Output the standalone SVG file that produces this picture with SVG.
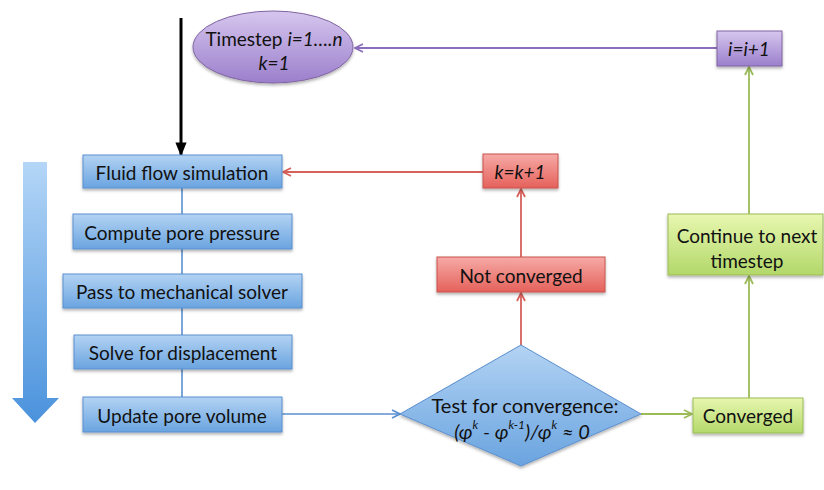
<svg xmlns="http://www.w3.org/2000/svg" width="824" height="490" viewBox="0 0 824 490">
<defs>
<linearGradient id="gBlue" x1="0" y1="0" x2="0" y2="1"><stop offset="0" stop-color="#b3d3f3"/><stop offset="1" stop-color="#6aa4e0"/></linearGradient>
<linearGradient id="gRed" x1="0" y1="0" x2="0" y2="1"><stop offset="0" stop-color="#f6aaa6"/><stop offset="1" stop-color="#e5615b"/></linearGradient>
<linearGradient id="gGreen" x1="0" y1="0" x2="0" y2="1"><stop offset="0" stop-color="#e8f7b0"/><stop offset="1" stop-color="#b3d86a"/></linearGradient>
<linearGradient id="gPurple" x1="0" y1="0" x2="0" y2="1"><stop offset="0" stop-color="#d6c6ee"/><stop offset="1" stop-color="#9b7fcc"/></linearGradient>
<linearGradient id="gArrow" x1="0" y1="0" x2="0" y2="1"><stop offset="0" stop-color="#b4d6f7"/><stop offset="1" stop-color="#4a92dc"/></linearGradient>
<filter id="sh" x="-10%" y="-10%" width="120%" height="140%"><feDropShadow dx="0" dy="2" stdDeviation="1.5" flood-color="#000" flood-opacity="0.3"/></filter>
<marker id="mBlue" viewBox="0 0 10 10" refX="9" refY="5" markerWidth="10" markerHeight="10" markerUnits="userSpaceOnUse" orient="auto"><path d="M1,1 L9,5 L1,9" fill="none" stroke="#5b8fcf" stroke-width="1.6"/></marker>
<marker id="mRed" viewBox="0 0 10 10" refX="9" refY="5" markerWidth="10" markerHeight="10" markerUnits="userSpaceOnUse" orient="auto"><path d="M1,1 L9,5 L1,9" fill="none" stroke="#d6605a" stroke-width="1.8"/></marker>
<marker id="mGreen" viewBox="0 0 10 10" refX="9" refY="5" markerWidth="10" markerHeight="10" markerUnits="userSpaceOnUse" orient="auto"><path d="M1,1 L9,5 L1,9" fill="none" stroke="#9bbb59" stroke-width="1.8"/></marker>
<marker id="mPurple" viewBox="0 0 10 10" refX="9" refY="5" markerWidth="10" markerHeight="10" markerUnits="userSpaceOnUse" orient="auto"><path d="M1,1 L9,5 L1,9" fill="none" stroke="#8a6dbb" stroke-width="1.8"/></marker>
<marker id="mBlack" viewBox="0 0 10 10" refX="9" refY="5" markerWidth="14" markerHeight="14" markerUnits="userSpaceOnUse" orient="auto"><path d="M0,1 L10,5 L0,9 Z" fill="#000"/></marker>
</defs>
<style>
.t{font-family:Lato,"Open Sans","Liberation Sans",sans-serif;font-size:19px;fill:#111;text-anchor:middle;dominant-baseline:central}
.i{font-style:italic}
.d{font-size:20px}
.blue{fill:url(#gBlue);stroke:#5b8fcf;stroke-width:1}
.red{fill:url(#gRed);stroke:#c8524c;stroke-width:1}
.green{fill:url(#gGreen);stroke:#9bbb59;stroke-width:1}
.purple{fill:url(#gPurple);stroke:#8064a2;stroke-width:1}
.cb{stroke:#5b8fcf;stroke-width:1.6;fill:none}
.cr{stroke:#d6605a;stroke-width:1.8;fill:none}
.cg{stroke:#9bbb59;stroke-width:1.8;fill:none}
.cp{stroke:#8a6dbb;stroke-width:1.8;fill:none}
</style>

<g id="big-arrow">
<path d="M23,162 L47,162 L47,398 L59,398 L35,423 L12,398 L23,398 Z" fill="url(#gArrow)"/>
</g>

<g id="connectors">
<line x1="181" y1="18" x2="181" y2="155" stroke="#000" stroke-width="3" marker-end="url(#mBlack)"/>
<line class="cb" x1="182" y1="188" x2="182" y2="214"/>
<line class="cb" x1="182" y1="249" x2="182" y2="274"/>
<line class="cb" x1="182" y1="308" x2="182" y2="335"/>
<line class="cb" x1="182" y1="369" x2="182" y2="397"/>
<line class="cb" x1="282" y1="414" x2="400" y2="414" marker-end="url(#mBlue)"/>
<line class="cr" x1="521" y1="345" x2="521" y2="293" marker-end="url(#mRed)"/>
<line class="cr" x1="521" y1="257" x2="521" y2="189" marker-end="url(#mRed)"/>
<line class="cr" x1="483" y1="172" x2="283" y2="172" marker-end="url(#mRed)"/>
<line class="cg" x1="641" y1="414" x2="692" y2="414" marker-end="url(#mGreen)"/>
<line class="cg" x1="749" y1="398" x2="749" y2="276" marker-end="url(#mGreen)"/>
<line class="cg" x1="749" y1="214" x2="749" y2="67" marker-end="url(#mGreen)"/>
<line class="cp" x1="717" y1="48" x2="355" y2="48" marker-end="url(#mPurple)"/>
</g>

<g id="timestep">
<ellipse class="purple" cx="273" cy="47" rx="80" ry="36" filter="url(#sh)"/>
<text class="t" x="274" y="38">Timestep <tspan class="i">i=1….n</tspan></text>
<text class="t i" x="274" y="62">k=1</text>
</g>

<g id="fluid-flow">
<rect class="blue" x="83" y="155" width="199" height="33" filter="url(#sh)"/>
<text class="t" x="182" y="172">Fluid flow simulation</text>
</g>
<g id="compute-pressure">
<rect class="blue" x="73" y="214" width="219" height="35" filter="url(#sh)"/>
<text class="t" x="182" y="232">Compute pore pressure</text>
</g>
<g id="pass-mechanical">
<rect class="blue" x="63" y="274" width="239" height="34" filter="url(#sh)"/>
<text class="t" x="182" y="291">Pass to mechanical solver</text>
</g>
<g id="solve-displacement">
<rect class="blue" x="74" y="335" width="218" height="34" filter="url(#sh)"/>
<text class="t" x="183" y="352">Solve for displacement</text>
</g>
<g id="update-volume">
<rect class="blue" x="83" y="397" width="199" height="35" filter="url(#sh)"/>
<text class="t" x="182" y="415">Update pore volume</text>
</g>

<g id="test-convergence">
<path class="blue" d="M521,345 L641,414 L521,466 L400,414 Z" filter="url(#sh)"/>
<text class="t d" x="525" y="405">Test for convergence:</text>
<text class="t d i" x="522" y="431">(φ<tspan font-size="12" dy="-7">k</tspan><tspan dy="7"> - φ</tspan><tspan font-size="12" dy="-7">k-1</tspan><tspan dy="7">)/φ</tspan><tspan font-size="12" dy="-7">k</tspan><tspan dy="7"> ≈ 0</tspan></text>
</g>

<g id="not-converged">
<rect class="red" x="437" y="257" width="168" height="35" filter="url(#sh)"/>
<text class="t" x="521" y="275">Not converged</text>
</g>
<g id="k-increment">
<rect class="red" x="483" y="154" width="75" height="34" filter="url(#sh)"/>
<text class="t i" x="520" y="171">k=k+1</text>
</g>

<g id="converged">
<rect class="green" x="693" y="398" width="110" height="35" filter="url(#sh)"/>
<text class="t" x="748" y="415">Converged</text>
</g>
<g id="continue">
<rect class="green" x="668" y="214" width="155" height="61" filter="url(#sh)"/>
<text class="t" x="747" y="235">Continue to next</text>
<text class="t" x="747" y="260">timestep</text>
</g>
<g id="i-increment">
<rect class="purple" x="717" y="31" width="65" height="35" filter="url(#sh)"/>
<text class="t i" x="749" y="48">i=i+1</text>
</g>
</svg>
